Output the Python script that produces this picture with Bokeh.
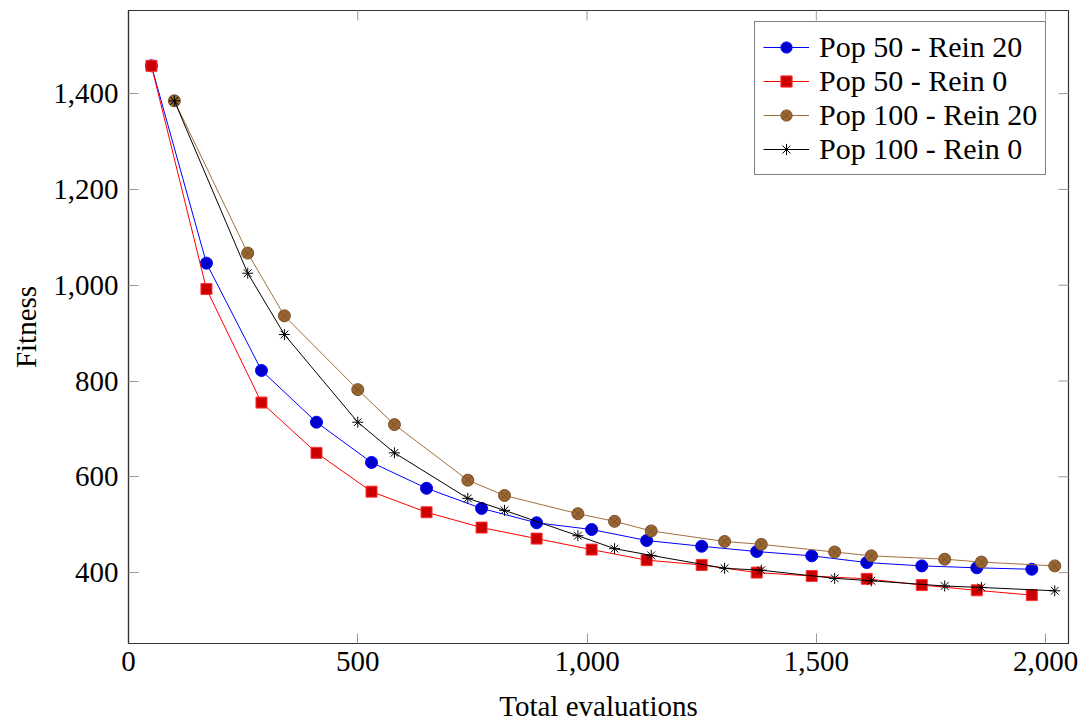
import math
from bokeh.plotting import figure
from bokeh.models import Range1d, FixedTicker, NumeralTickFormatter, Legend, LegendItem
from bokeh.embed import file_html
from bokeh.resources import INLINE

# ---- data ----
x_pop50 = [50, 170, 290, 410, 530, 650, 770, 890, 1010, 1130, 1250, 1370, 1490, 1610, 1730, 1850, 1970]
pop50_rein20 = [1458, 1046, 822, 714, 630, 576, 534, 504, 490, 467, 455, 444, 435, 421, 414, 410, 407]
pop50_rein0 = [1458, 992, 755, 650, 569, 526, 494, 471, 448, 426, 416, 400, 393, 387, 374, 363, 353]

x_pop100 = [100, 260, 340, 500, 580, 740, 820, 980, 1060, 1140, 1300, 1380, 1540, 1620, 1780, 1860, 2020]
pop100_rein20 = [1385, 1067, 936, 782, 709, 593, 561, 523, 507, 487, 465, 459, 443, 435, 428, 422, 414]
pop100_rein0 = [1385, 1025, 897, 714, 650, 555, 530, 477, 450, 436, 409, 405, 388, 383, 372, 369, 362]

x_ticks = [0, 500, 1000, 1500, 2000]
y_ticks = [400, 600, 800, 1000, 1200, 1400]

X_MIN, X_MAX = 0, 2050
Y_MIN, Y_MAX = 252, 1573.5

FONT = "Liberation Serif"
FS = "29px"

p = figure(width=1081, height=724, output_backend="svg", toolbar_location=None,
           x_range=Range1d(X_MIN, X_MAX), y_range=Range1d(Y_MIN, Y_MAX),
           min_border_left=128, min_border_right=13, min_border_top=10, min_border_bottom=80,
           background_fill_color="white", border_fill_color="white")
p.grid.visible = False
p.outline_line_color = "#333333"
p.outline_line_width = 1.2

for ax in (p.xaxis[0], p.yaxis[0]):
    ax.major_tick_in = 10
    ax.major_tick_out = 0
    ax.minor_tick_in = 0
    ax.minor_tick_out = 0
    ax.major_tick_line_color = "#999999"
    ax.axis_line_color = "#333333"
    ax.axis_line_width = 1.2
    ax.major_label_text_font = FONT
    ax.major_label_text_font_size = FS
    ax.major_label_text_color = "black"
    ax.axis_label_text_font = FONT
    ax.axis_label_text_font_size = FS
    ax.axis_label_text_font_style = "normal"
    ax.axis_label_text_color = "black"

p.xaxis[0].ticker = FixedTicker(ticks=x_ticks)
p.yaxis[0].ticker = FixedTicker(ticks=y_ticks)
p.xaxis[0].formatter = NumeralTickFormatter(format="0,0")
p.yaxis[0].formatter = NumeralTickFormatter(format="0,0")
p.xaxis[0].axis_label = "Total evaluations"
p.yaxis[0].axis_label = "Fitness"
p.xaxis[0].major_label_standoff = 8
p.yaxis[0].major_label_standoff = 10
p.xaxis[0].axis_label_standoff = 16
p.yaxis[0].axis_label_standoff = 8

# mirror ticks on top and right edges (dash markers, half clipped by the frame)
p.scatter(x_ticks, [Y_MAX] * len(x_ticks), marker="dash", size=20, angle=math.pi / 2,
          line_color="#999999", line_width=1)
p.scatter([X_MAX] * len(y_ticks), y_ticks, marker="dash", size=20,
          line_color="#999999", line_width=1)

# series
l1 = p.line(x_pop50, pop50_rein20, line_color="#0000ff", line_width=1)
m1 = p.scatter(x_pop50, pop50_rein20, marker="circle", size=12,
               fill_color="#0000cc", line_color="#0000ff", line_width=1)
l2 = p.line(x_pop50, pop50_rein0, line_color="#ff0000", line_width=1)
m2 = p.scatter(x_pop50, pop50_rein0, marker="square", size=11,
               fill_color="#cc0000", line_color="#ff3333", line_width=1)
l3 = p.line(x_pop100, pop100_rein20, line_color="#a0703c", line_width=1)
m3 = p.scatter(x_pop100, pop100_rein20, marker="circle_x", size=12,
               fill_color="#996633", line_color="#7a5028", line_width=1)
l4 = p.line(x_pop100, pop100_rein0, line_color="black", line_width=1)
m4 = p.scatter(x_pop100, pop100_rein0, marker="asterisk", size=11,
               line_color="black", line_width=1)

legend = Legend(items=[
    LegendItem(label="Pop 50 - Rein 20", renderers=[l1, m1]),
    LegendItem(label="Pop 50 - Rein 0", renderers=[l2, m2]),
    LegendItem(label="Pop 100 - Rein 20", renderers=[l3, m3]),
    LegendItem(label="Pop 100 - Rein 0", renderers=[l4, m4]),
], location=(626, 468), margin=0, padding=8, spacing=0,
    glyph_width=46, glyph_height=28, label_standoff=10, label_height=28,
    label_text_font=FONT, label_text_font_size="30px", label_text_color="black",
    border_line_color="black", border_line_width=1, background_fill_alpha=1)
p.add_layout(legend, "center")

open("out.html", "w").write(file_html(p, INLINE))
